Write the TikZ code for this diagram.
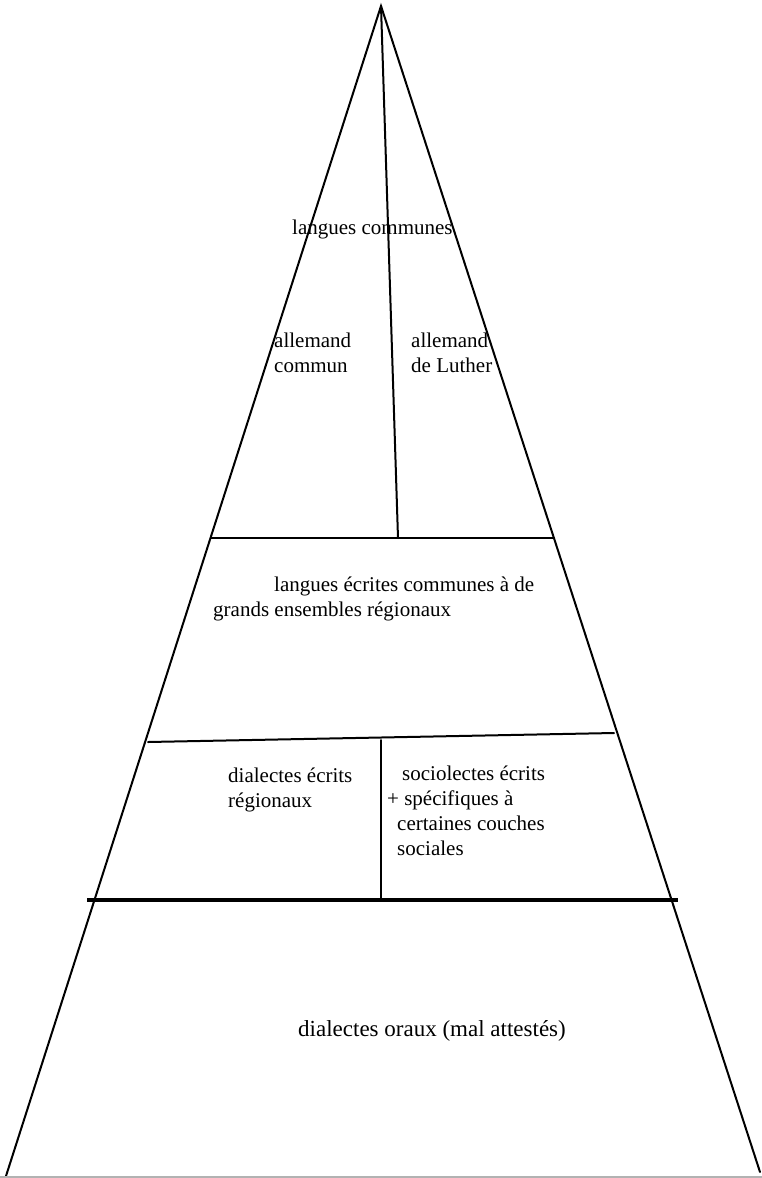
\documentclass[tikz,border=0pt]{standalone}
\usepackage{fontspec}
\setmainfont{Liberation Serif}
\usepackage{tikz}

\begin{document}
\begin{tikzpicture}[
    x=1pt, y=-1pt,
    edge/.style={line width=2pt, line cap=round},
    bold/.style={line width=3.5pt},
    lbl/.style={inner sep=0pt, font=\fontsize{21}{25}\selectfont, align=left, anchor=base west}
  ]
    \useasboundingbox (0,0) rectangle (762,1178);
    % pyramid outline
    \coordinate (apex) at (381,6);
    \coordinate (bl) at (6,1176);
    \coordinate (br) at (760,1172);
    \draw[edge] (bl) -- (apex) -- (br);
    \draw[gray!60, line width=1.5pt] (0,1177) -- (762,1177);
    % levels
    \coordinate (l1a) at (211,538);
    \coordinate (l1b) at (554,538);
    \coordinate (l2a) at (148,742);
    \coordinate (l2b) at (614,733);
    \coordinate (l3a) at (87,900);
    \coordinate (l3b) at (678,900);
    \draw[edge] (l1a) -- (l1b);
    \draw[edge] (l2a) -- (l2b);
    \draw[bold] (l3a) -- (l3b);
    % splits
    \coordinate (s1) at (398,538);
    \coordinate (s2a) at (381,740);
    \coordinate (s2b) at (381,900);
    \draw[edge] (apex) -- (s1);
    \draw[edge] (s2a) -- (s2b);
    % labels (base = last line)
    \node[lbl] (communes) at (292,234) {langues communes};
    \node[lbl] (commun) at (274,372) {allemand\\commun};
    \node[lbl] (luther) at (411,372) {allemand\\de Luther};
    \node[lbl] (ecrites) at (213,616) {\hspace*{61pt}langues écrites communes à de\\grands ensembles régionaux};
    \node[lbl] (regionaux) at (228,807) {dialectes écrits\\régionaux};
    \node[lbl] (socio) at (387,855) {\hspace*{15pt}sociolectes écrits\\+ spécifiques à\\\hspace*{10pt}certaines couches\\\hspace*{10pt}sociales};
    \node[lbl, font=\fontsize{23}{27}\selectfont] (oraux) at (298,1036) {dialectes oraux (mal attestés)};
\end{tikzpicture}
\end{document}
